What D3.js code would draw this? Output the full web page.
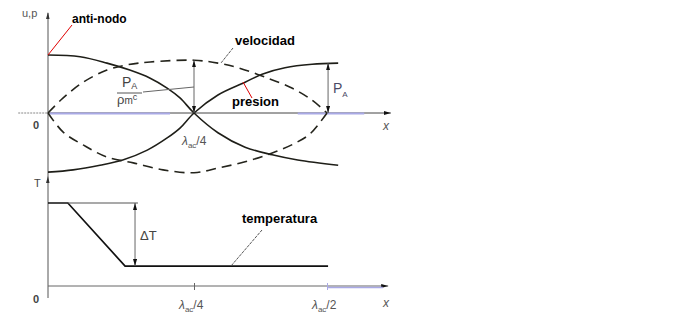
<!DOCTYPE html>
<html><head><meta charset="utf-8">
<script src="https://cdn.jsdelivr.net/npm/d3@7"></script>
<style>
html,body{margin:0;padding:0;background:#fff;}
svg{display:block;font-family:"Liberation Sans",Arial,sans-serif;}
</style></head>
<body>
<svg id="c" width="699" height="330"></svg>
<script>
// ---- data (x in units of wavelength λac, values normalised) ----
const xTicks = [0.25, 0.5];
const xTickLabels = [["λ","ac","/4"], ["λ","ac","/2"]];
const pressureA = [[0,1.0],[0.055,0.97],[0.101,0.86],[0.140,0.74],[0.175,0.60],[0.204,0.43],[0.226,0.26],[0.25,0],[0.295,-0.34],[0.346,-0.59],[0.397,-0.72],[0.445,-0.81],[0.521,-0.90]];
const pressureB = [[0,-1.02],[0.043,-0.98],[0.089,-0.90],[0.128,-0.81],[0.170,-0.64],[0.204,-0.43],[0.226,-0.26],[0.25,0],[0.295,0.31],[0.346,0.53],[0.378,0.67],[0.421,0.78],[0.472,0.84],[0.521,0.86]];
const velocityUp = [[0,0],[0.026,0.26],[0.060,0.53],[0.101,0.74],[0.135,0.83],[0.175,0.88],[0.25,0.91],[0.295,0.86],[0.333,0.78],[0.383,0.62],[0.434,0.43],[0.472,0.22],[0.5,0]];
const velocityDown = [[0,0],[0.026,-0.33],[0.060,-0.55],[0.101,-0.76],[0.146,-0.86],[0.197,-0.98],[0.25,-1.03],[0.295,-0.95],[0.346,-0.84],[0.397,-0.69],[0.440,-0.52],[0.468,-0.36],[0.5,0]];
const temperature = [[0,1],[0.034,1],[0.132,0.24],[0.502,0.24]];
const tempHigh = 1, tempLow = 0.24;
const velAmp = 0.91, presAmp = 0.86;

const svg = d3.select("#c");
const xs = d3.scaleLinear().domain([0,0.25,0.5]).range([48,194,327]);
const ys = d3.scaleLinear().domain([-1,1]).range([171,55]);
const ts = d3.scaleLinear().domain([0,1]).range([286,203]);

const defs = svg.append("defs");
defs.append("marker").attr("id","ah").attr("markerUnits","userSpaceOnUse")
  .attr("markerWidth",8).attr("markerHeight",5).attr("refX",7).attr("refY",2)
  .attr("orient","auto-start-reverse")
  .append("path").attr("d","M0,0 L7,2 L0,4 Z").attr("fill","#111");

const ink = "#1e1e18", axc = "#555", lav = "#a9a9e6", txt = "#3c3c3c";

// ---- axes ----
svg.append("line").attr("x1",xs(0)).attr("x2",xs(0)).attr("y1",13).attr("y2",298)
  .attr("stroke",axc).attr("stroke-width",1);
svg.append("path").attr("d",`M${xs(0)-2},19 L${xs(0)},12 L${xs(0)+1.5},19 Z`).attr("fill","#333");
svg.append("path").attr("d",`M${xs(0)-2},183 L${xs(0)},176 L${xs(0)+1.5},183 Z`).attr("fill","#333");

// top x axis
const y0 = ys(0);
svg.append("line").attr("x1",xs(-0.051)).attr("x2",xs(0)).attr("y1",y0).attr("y2",y0)
  .attr("stroke","#888").attr("stroke-dasharray","2,1");
svg.append("line").attr("x1",xs(0)).attr("x2",xs(0.62)).attr("y1",y0).attr("y2",y0)
  .attr("stroke","#444").attr("stroke-width",1).attr("marker-end","url(#ah)");
svg.append("line").attr("x1",xs(0.003)).attr("x2",xs(0.209)).attr("y1",y0+0.5).attr("y2",y0+0.5)
  .attr("stroke",lav).attr("stroke-width",2);
svg.append("line").attr("x1",xs(0.445)).attr("x2",xs(0.57)).attr("y1",y0+0.5).attr("y2",y0+0.5)
  .attr("stroke",lav).attr("stroke-width",2);

// bottom x axis
const yb = ts(0);
svg.append("line").attr("x1",xs(0)).attr("x2",xs(0.615)).attr("y1",yb).attr("y2",yb)
  .attr("stroke","#666").attr("stroke-width",1).attr("marker-end","url(#ah)");
svg.append("line").attr("x1",xs(0.502)).attr("x2",xs(0.605)).attr("y1",yb+1.5).attr("y2",yb+1.5)
  .attr("stroke",lav).attr("stroke-width",1.5);
const ax = svg.append("g").attr("transform",`translate(0,${yb-3})`)
  .call(d3.axisBottom(xs).tickValues(xTicks).tickSize(7).tickFormat(""));
ax.select(".domain").remove();
ax.selectAll(".tick line").attr("stroke","#666");
ax.selectAll(".tick").filter(d=>d===0.5).select("line").attr("stroke",lav);

// ---- curves ----
const line = d3.line().x(d=>xs(d[0])).y(d=>ys(d[1])).curve(d3.curveCatmullRom);
[pressureA, pressureB].forEach(s=>svg.append("path").attr("d",line(s))
  .attr("fill","none").attr("stroke",ink).attr("stroke-width",1.6));
[velocityUp, velocityDown].forEach(s=>svg.append("path").attr("d",line(s))
  .attr("fill","none").attr("stroke","#24241c").attr("stroke-width",1.6).attr("stroke-dasharray","10,6"));

const tline = d3.line().x(d=>xs(d[0])).y(d=>ts(d[1]));
svg.append("path").attr("d",tline(temperature)).attr("fill","none").attr("stroke","#111").attr("stroke-width",1.7);
svg.append("line").attr("x1",xs(0.034)).attr("x2",xs(0.154)).attr("y1",ts(tempHigh)).attr("y2",ts(tempHigh))
  .attr("stroke","#555").attr("stroke-width",1.2);

// ---- double arrows ----
function dbl(x,y1,y2){
  svg.append("line").attr("x1",x).attr("x2",x).attr("y1",y1).attr("y2",y2)
    .attr("stroke","#666").attr("stroke-width",1)
    .attr("marker-start","url(#ah)").attr("marker-end","url(#ah)");
}
dbl(xs(0.25), ys(velAmp), ys(0));
dbl(xs(0.502), ys(presAmp), ys(0));
dbl(xs(0.149), ts(tempHigh), ts(tempLow));

// ---- leader lines ----
function lead(x1,y1,x2,y2,c,dash){
  const l=svg.append("line").attr("x1",x1).attr("y1",y1).attr("x2",x2).attr("y2",y2)
    .attr("stroke",c).attr("stroke-width",1);
  if(dash) l.attr("stroke-dasharray",dash);
}
lead(72,25,xs(0),ys(1),"#e00000");
lead(233,48,221,63,"#555","3,1");
lead(243,82,252,98,"#e00000");
lead(262,230,231,266,"#555","3,1");
lead(143,92,xs(0.25),87,"#666");

// ---- text ----
function t(x,y,s,o={}){
  return svg.append("text").attr("x",x).attr("y",y).text(s)
    .attr("font-size",o.size||12).attr("font-weight",o.w||"normal")
    .attr("fill",o.c||txt).attr("font-style",o.i?"italic":"normal");
}
t(72,23,"anti-nodo",{size:12,w:"bold",c:"#000"});
t(235,45,"velocidad",{size:13,w:"bold",c:"#000"});
t(232,106,"presion",{size:13,w:"bold",c:"#000"});
t(242,223,"temperatura",{size:13,w:"bold",c:"#000"});

t(22,17,"u,p",{size:11,c:"#555"});
t(33,129,"0",{size:11,c:"#444",w:"bold"});
t(34,187,"T",{size:11,c:"#444"});
t(33,303,"0",{size:11,c:"#444",w:"bold"});
t(383,130,"x",{size:12,i:true,c:"#555"});
t(383,307,"x",{size:12,i:true,c:"#555"});
t(140,240,"ΔT",{size:13,c:"#444"});

// P_A / (rho_m c)
const pa = t(122,87,"P",{size:14,c:"#444"});
pa.append("tspan").attr("font-size",9).attr("dy",2).text("A");
svg.append("line").attr("x1",117).attr("x2",142).attr("y1",93).attr("y2",93).attr("stroke","#555");
const rho = t(117,104,"ρ",{size:13,c:"#444"});
rho.append("tspan").attr("font-size",10).text("m");
rho.append("tspan").attr("font-size",9).attr("dy",-4).text("c");

const pa2 = t(333,93,"P",{size:14,c:"#4a4a66"});
pa2.append("tspan").attr("font-size",8).attr("dy",4).text("A");

// λ labels
function lam(x,y,parts){
  const e=t(x,y,parts[0],{size:12,c:"#555",i:true});
  e.append("tspan").attr("font-size",8).attr("dy",3).attr("font-style","normal").text(parts[1]);
  e.append("tspan").attr("font-size",12).attr("dy",-3).attr("font-style","normal").text(parts[2]);
}
lam(182,145,xTickLabels[0]);
lam(xs(xTicks[0])-15,309,xTickLabels[0]);
lam(xs(xTicks[1])-15,309,xTickLabels[1]);
</script>
</body></html>
